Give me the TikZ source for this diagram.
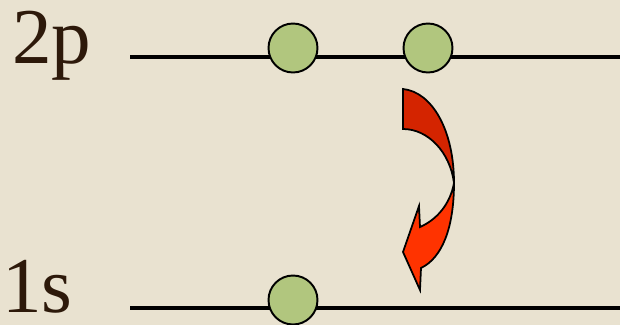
\documentclass[tikz,border=0pt]{standalone}
\usepackage{fontspec}
\setmainfont{Liberation Serif}
\begin{document}
\begin{tikzpicture}[
        x=0.02cm, y=-0.02cm,
        level/.style={black, line width=2.2pt},
        electron/.style={circle, draw, line width=1.1pt, fill=electrongreen, minimum size=0.98cm, inner sep=0pt},
        orbital/.style={anchor=base west, inner sep=0pt, font=\fontsize{45}{45}\selectfont, text=labelbrown},
        arrowpart/.style={draw=black, line width=1pt, line join=miter}
    ]
    \definecolor{paper}{RGB}{233,226,208}
    \definecolor{electrongreen}{RGB}{177,198,126}
    \definecolor{labelbrown}{RGB}{45,25,10}
    \definecolor{darkred}{RGB}{212,36,0}
    \definecolor{brightred}{RGB}{255,51,0}

    % Pozadí
    \fill[paper] (0,0) rectangle (620,325);
    \useasboundingbox (0,0) rectangle (620,325);

    % Popisky hladin
    \node[orbital] (lab2p) at (12,63) {2p};
    \node[orbital] (lab1s) at (2,312) {1s};

    % Konce hladin
    \coordinate (top_start) at (130,57);
    \coordinate (top_end) at (620,57);
    \coordinate (bot_start) at (130,308);
    \coordinate (bot_end) at (620,308);

    % Hladiny
    \draw[level] (top_start) -- (top_end);
    \draw[level] (bot_start) -- (bot_end);

    % Elektrony
    \node[electron] (e1) at (293,48) {};
    \node[electron] (e2) at (428,48) {};
    \node[electron] (e3) at (293,300) {};

    % Zahnutá šipka (horní a dolní část)
    \filldraw[arrowpart, fill=darkred] (403,89) .. controls (432,92) and (454,130) .. (454,183)
        .. controls (450,152) and (428,129) .. (403,129) -- cycle;
    \filldraw[arrowpart, fill=brightred] (454,183) .. controls (454,228) and (442,258) .. (421,268)
        -- (420,290) -- (403,252) -- (419,206) -- (420,227)
        .. controls (436,220) and (450,205) .. (454,183) -- cycle;

\end{tikzpicture}
\end{document}
